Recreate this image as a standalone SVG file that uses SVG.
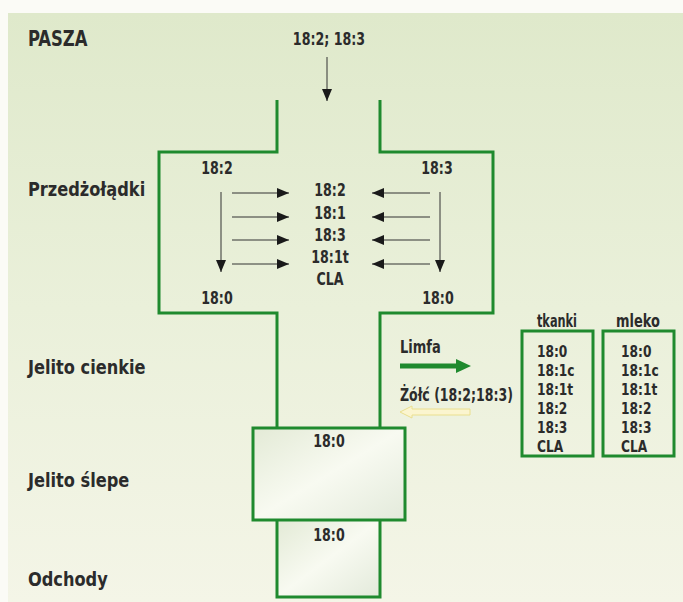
<svg xmlns="http://www.w3.org/2000/svg" width="683" height="602" viewBox="0 0 683 602">
<defs>
<linearGradient id="bg" x1="0" y1="0" x2="0" y2="1">
<stop offset="0" stop-color="#dfe9cb"/>
<stop offset="0.5" stop-color="#eaf0da"/>
<stop offset="1" stop-color="#f4f5e7"/>
</linearGradient>
<linearGradient id="boxfill" x1="0" y1="0" x2="1" y2="1">
<stop offset="0" stop-color="#e3ead6"/>
<stop offset="0.5" stop-color="#f8faf1"/>
<stop offset="1" stop-color="#e3eadb"/>
</linearGradient>
<marker id="ah" viewBox="0 0 12 10" refX="12" refY="5" markerWidth="12" markerHeight="10" markerUnits="userSpaceOnUse" orient="auto">
<path d="M0,0 L12,5 L0,10 Z" fill="#1a1a1a"/>
</marker>
<style>
.t{font-family:"DejaVu Sans Condensed","DejaVu Sans",sans-serif;font-stretch:condensed;font-weight:bold;fill:#2b2b2b}
.lab{font-size:20px}
.num{font-size:18px;text-anchor:middle}
.box{font-size:16px}
.wall{fill:none;stroke:#1f8a2e;stroke-width:3}
.thin{stroke:#333;stroke-width:1;fill:none}
</style>
</defs>
<rect x="0" y="0" width="683" height="602" fill="#fbfbf6"/>
<rect x="8" y="13" width="675" height="589" fill="url(#bg)"/>

<g id="labels">
<text class="t" x="33.73" y="46" font-size="22" transform="scale(0.83,1)">PASZA</text>
<text class="t lab" x="31.11" y="196" transform="scale(0.9,1)">Przedżołądki</text>
<text class="t lab" x="31.11" y="374" transform="scale(0.9,1)">Jelito cienkie</text>
<text class="t lab" x="31.11" y="487" transform="scale(0.9,1)">Jelito ślepe</text>
<text class="t lab" x="31.11" y="586" transform="scale(0.9,1)">Odchody</text>
</g>

<g id="feed">
<text class="t num" x="421.79" y="45" transform="scale(0.78,1)">18:2; 18:3</text>
</g>

<g id="gut">
<rect x="253" y="428" width="152" height="92" fill="url(#boxfill)"/>
<rect x="277" y="520" width="103" height="77" fill="url(#boxfill)"/>
<path class="wall" d="M277,100 V152 H159 V313 H277 V428"/>
<path class="wall" d="M380,100 V152 H493 V313 H380 V428"/>
<rect class="wall" x="253" y="428" width="152" height="92"/>
<path class="wall" d="M277,520 V597 H380 V520"/>
</g>

<g id="rumen" transform="scale(0.78,1)">
<text class="t num" x="278.2" y="174">18:2</text>
<text class="t num" x="560.26" y="174">18:3</text>
<text class="t num" x="423.08" y="196">18:2</text>
<text class="t num" x="423.08" y="219">18:1</text>
<text class="t num" x="423.08" y="241">18:3</text>
<text class="t num" x="423.08" y="263">18:1t</text>
<text class="t num" x="423.08" y="285">CLA</text>
<text class="t num" x="278.2" y="304">18:0</text>
<text class="t num" x="561.54" y="304">18:0</text>
</g>

<g id="cecum" transform="scale(0.78,1)">
<text class="t num" x="421.79" y="447">18:0</text>
</g>
<g id="faeces" transform="scale(0.78,1)">
<text class="t num" x="421.79" y="541">18:0</text>
</g>

<g id="transport">
<text class="t" x="470.6" y="353" font-size="17" transform="scale(0.85,1)">Limfa</text>
<path d="M400,366 H458" stroke="#1f8a2e" stroke-width="5"/>
<path d="M456,359 L471,366 L456,373 Z" fill="#1f8a2e"/>
<text class="t" x="487.8" y="401" font-size="17" transform="scale(0.82,1)">Żółć (18:2;18:3)</text>
<path d="M400,412 L412,406 L412,409 L470,409 L470,415 L412,415 L412,418 Z" fill="#fbf5cf" stroke="#eadf8e" stroke-width="1"/>
</g>

<g id="tkanki">
<text class="t" x="795.7" y="327" font-size="18" text-anchor="middle" transform="scale(0.7,1)">tkanki</text>
<rect class="wall" x="522" y="331" width="71" height="125" fill="url(#boxfill)"/>
<g transform="scale(0.85,1)">
<text class="t box" x="631.76" y="357">18:0</text>
<text class="t box" x="631.76" y="376">18:1c</text>
<text class="t box" x="631.76" y="395">18:1t</text>
<text class="t box" x="631.76" y="414">18:2</text>
<text class="t box" x="631.76" y="433">18:3</text>
<text class="t box" x="631.76" y="452">CLA</text>
</g>
</g>

<g id="mleko">
<text class="t" x="797.5" y="327" font-size="18" text-anchor="middle" transform="scale(0.8,1)">mleko</text>
<rect class="wall" x="603" y="331" width="71" height="125" fill="url(#boxfill)"/>
<g transform="scale(0.85,1)">
<text class="t box" x="730.59" y="357">18:0</text>
<text class="t box" x="730.59" y="376">18:1c</text>
<text class="t box" x="730.59" y="395">18:1t</text>
<text class="t box" x="730.59" y="414">18:2</text>
<text class="t box" x="730.59" y="433">18:3</text>
<text class="t box" x="730.59" y="452">CLA</text>
</g>
</g>

<g id="connectors">
<line class="thin" x1="327" y1="57" x2="327" y2="101" marker-end="url(#ah)"/>
<line class="thin" x1="232" y1="193" x2="289" y2="193" marker-end="url(#ah)"/>
<line class="thin" x1="232" y1="217" x2="289" y2="217" marker-end="url(#ah)"/>
<line class="thin" x1="232" y1="240" x2="289" y2="240" marker-end="url(#ah)"/>
<line class="thin" x1="232" y1="264" x2="289" y2="264" marker-end="url(#ah)"/>
<line class="thin" x1="430" y1="193" x2="372" y2="193" marker-end="url(#ah)"/>
<line class="thin" x1="430" y1="217" x2="372" y2="217" marker-end="url(#ah)"/>
<line class="thin" x1="430" y1="240" x2="372" y2="240" marker-end="url(#ah)"/>
<line class="thin" x1="430" y1="264" x2="372" y2="264" marker-end="url(#ah)"/>
<line class="thin" x1="221" y1="192" x2="221" y2="272" stroke="#777" marker-end="url(#ah)"/>
<line class="thin" x1="440" y1="192" x2="440" y2="272" stroke="#777" marker-end="url(#ah)"/>
</g>
</svg>
